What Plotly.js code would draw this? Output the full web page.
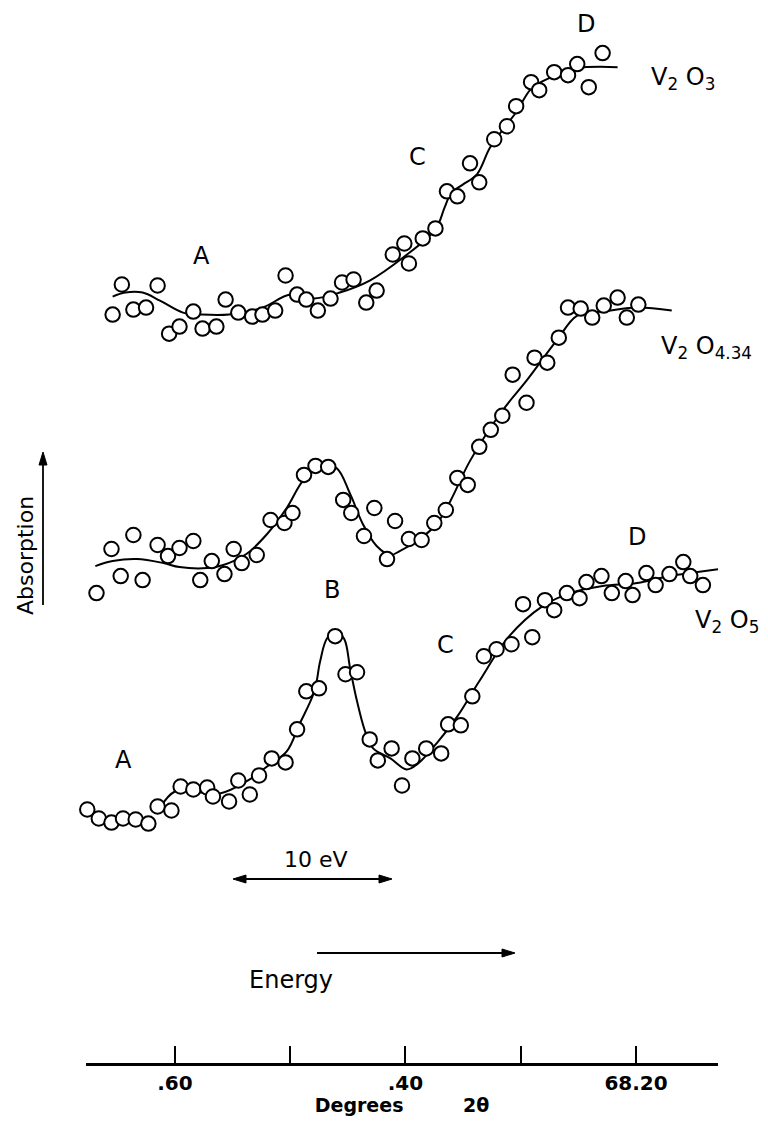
<!DOCTYPE html>
<html>
<head>
<meta charset="utf-8">
<script src="https://cdn.plot.ly/plotly-3.0.1.min.js"></script>
<style>
  html, body { margin: 0; padding: 0; background: #ffffff; }
  #chart { width: 768px; height: 1121px; }
</style>
</head>
<body>
<div id="chart"></div>
<script>
// ---- Data (x = 2θ in degrees, y = absorption, arbitrary units with offsets) ----
const tickValues = [68.60, 68.40, 68.20];
const tickLabels = ['.60', '.40', '68.20'];
const minorTickValues = [68.50, 68.30];

// V2O3 measured points
const xV2O3 = [68.654, 68.646, 68.636, 68.625, 68.615, 68.605, 68.596, 68.584, 68.576, 68.564,
               68.556, 68.545, 68.533, 68.524, 68.513, 68.504, 68.494, 68.486, 68.476, 68.465,
               68.455, 68.445, 68.434, 68.425, 68.411, 68.401, 68.397, 68.385, 68.374, 68.364,
               68.355, 68.344, 68.336, 68.323, 68.312, 68.304, 68.291, 68.284, 68.271, 68.259,
               68.251, 68.241, 68.229];
const yV2O3 = [75.1, 78.1, 75.6, 75.8, 78.0, 73.2, 73.9, 75.4, 73.7, 73.9,
               76.6, 75.3, 74.9, 75.1, 75.5, 79.0, 77.1, 76.6, 75.5, 76.7,
               78.3, 78.6, 76.3, 77.5, 81.1, 82.2, 80.2, 82.7, 83.7, 87.4,
               86.9, 90.2, 88.3, 92.6, 93.9, 95.9, 98.3, 97.5, 99.3, 99.0,
               100.1, 97.8, 101.2];
// V2O3 drawn curve
const xV2O3Fit = [68.654, 68.643, 68.628, 68.613, 68.593, 68.577, 68.553, 68.524, 68.500, 68.480,
                  68.457, 68.431, 68.402, 68.374, 68.366, 68.360, 68.350, 68.338, 68.327, 68.316,
                  68.304, 68.292, 68.284, 68.269, 68.251, 68.216];
const yV2O3Fit = [76.9, 77.3, 77.3, 76.5, 75.3, 75.1, 75.1, 75.8, 77.1, 76.7,
                  77.3, 78.5, 80.8, 83.6, 85.8, 87.3, 88.1, 89.1, 91.7, 93.5,
                  95.3, 97.5, 98.2, 99.0, 99.7, 99.8];

// V2O4.34 measured points
const xV2O434 = [68.668, 68.655, 68.647, 68.636, 68.628, 68.615, 68.606, 68.596, 68.584, 68.578,
                 68.568, 68.557, 68.549, 68.542, 68.529, 68.517, 68.505, 68.498, 68.488, 68.478,
                 68.467, 68.454, 68.447, 68.436, 68.427, 68.416, 68.409, 68.397, 68.386, 68.375,
                 68.365, 68.355, 68.346, 68.336, 68.326, 68.316, 68.307, 68.295, 68.288, 68.277,
                 68.267, 68.259, 68.248, 68.238, 68.228, 68.216, 68.208, 68.198];
const yV2O434 = [47.3, 51.7, 49.0, 53.1, 48.6, 52.1, 51.0, 51.8, 52.5, 48.6,
                 50.5, 49.2, 51.7, 50.3, 51.1, 54.6, 54.3, 55.3, 59.1, 60.0,
                 59.9, 56.6, 55.3, 53.0, 55.8, 50.7, 54.5, 52.7, 52.6, 54.3,
                 55.6, 58.8, 58.1, 61.9, 63.6, 65.0, 69.1, 66.3, 70.8, 70.3,
                 72.8, 75.8, 75.7, 74.8, 76.0, 76.8, 74.8, 76.1];
// V2O4.34 drawn curve
const xV2O434Fit = [68.669, 68.654, 68.633, 68.610, 68.596, 68.572, 68.558, 68.538, 68.520, 68.503,
                    68.489, 68.474, 68.460, 68.448, 68.437, 68.425, 68.413, 68.405, 68.390, 68.373,
                    68.361, 68.344, 68.316, 68.295, 68.269, 68.251, 68.229, 68.199, 68.169];
const yV2O434Fit = [50.0, 50.5, 50.7, 50.3, 49.9, 49.8, 50.1, 51.2, 53.2, 55.8,
                    58.5, 60.0, 59.8, 57.2, 54.2, 52.0, 51.1, 51.5, 52.5, 54.2,
                    56.5, 60.5, 65.5, 68.5, 72.5, 75.0, 75.4, 75.8, 75.5];

// V2O5 measured points
const xV2O5 = [68.676, 68.666, 68.655, 68.645, 68.634, 68.623, 68.615, 68.603, 68.595, 68.584,
               68.572, 68.567, 68.553, 68.545, 68.535, 68.527, 68.516, 68.504, 68.494, 68.486,
               68.475, 68.461, 68.452, 68.442, 68.431, 68.424, 68.412, 68.403, 68.394, 68.382,
               68.369, 68.363, 68.352, 68.342, 68.332, 68.321, 68.308, 68.298, 68.290, 68.279,
               68.271, 68.260, 68.249, 68.243, 68.230, 68.221, 68.209, 68.203, 68.191, 68.183,
               68.171, 68.159, 68.153, 68.142];
const yV2O5 = [25.7, 24.8, 24.4, 24.8, 24.7, 24.3, 26.0, 25.6, 28.0, 27.7,
               27.9, 27.0, 26.5, 28.6, 27.2, 29.1, 30.8, 30.4, 33.7, 37.5,
               37.8, 43.0, 39.2, 39.4, 32.7, 30.6, 31.8, 28.1, 30.8, 31.8,
               31.3, 34.2, 34.1, 37.0, 41.0, 41.7, 42.2, 46.2, 42.9, 46.6,
               45.6, 47.3, 46.8, 48.4, 49.0, 47.3, 48.5, 47.1, 49.3, 48.1,
               49.2, 50.4, 49.0, 48.1];
// V2O5 drawn curve
const xV2O5Fit = [68.613, 68.600, 68.584, 68.561, 68.538, 68.520, 68.503, 68.492, 68.479, 68.474,
                  68.468, 68.460, 68.453, 68.448, 68.442, 68.435, 68.428, 68.413, 68.399, 68.390,
                  68.373, 68.355, 68.336, 68.310, 68.281, 68.257, 68.229, 68.199, 68.171, 68.153,
                  68.128];
const yV2O5Fit = [25.9, 27.5, 27.5, 27.3, 28.5, 30.0, 31.5, 34.2, 37.5, 40.5,
                  42.8, 43.5, 42.7, 39.8, 36.5, 33.5, 31.8, 30.8, 29.7, 30.2,
                  32.3, 35.0, 38.5, 43.0, 46.0, 47.3, 48.0, 48.3, 49.0, 49.3,
                  49.7];

// ---- Layout geometry ----
const W = 768, H = 1121;
const M = { l: 86, r: 50, t: 0, b: 58 };
const PW = W - M.l - M.r, PH = H - M.t - M.b;
// page-pixel -> paper coordinates (for labels/arrows only)
const PX = x => (x - M.l) / PW;
const PY = y => (H - M.b - y) / PH;

const lineStyle = { color: '#000', width: 2, shape: 'spline', smoothing: 1 };
const markerStyle = { symbol: 'circle', size: 14.5, color: '#fff', line: { color: '#000', width: 2 } };

const fits = [[xV2O3Fit, yV2O3Fit, 'V2O3 curve'], [xV2O434Fit, yV2O434Fit, 'V2O4.34 curve'], [xV2O5Fit, yV2O5Fit, 'V2O5 curve']];
const pts = [[xV2O3, yV2O3, 'V2O3'], [xV2O434, yV2O434, 'V2O4.34'], [xV2O5, yV2O5, 'V2O5']];

const traces = [];
fits.forEach(f => traces.push({ x: f[0], y: f[1], name: f[2], type: 'scatter', mode: 'lines', line: lineStyle, hoverinfo: 'skip' }));
pts.forEach(p => traces.push({ x: p[0], y: p[1], name: p[2], type: 'scatter', mode: 'markers', marker: markerStyle, cliponaxis: false }));

const FAM = 'DejaVu Sans, sans-serif';
const labFont = { family: FAM, size: 24, color: '#000' };
function label(text, x, y, extra) {
  return Object.assign({ text: text, xref: 'paper', yref: 'paper', x: PX(x), y: PY(y), showarrow: false,
                         xanchor: 'center', yanchor: 'middle', font: labFont }, extra || {});
}

// arrows drawn as shapes: a line plus filled narrow triangular heads
const shapes = [];
function seg(x0, y0, x1, y1) {
  shapes.push({ type: 'line', xref: 'paper', yref: 'paper', x0: PX(x0), y0: PY(y0), x1: PX(x1), y1: PY(y1),
                line: { color: '#000', width: 1.8 } });
}
function head(tx, ty, dx, dy) { // tip at (tx,ty), pointing along unit (dx,dy)
  const L = 13, Wd = 4;
  const bx = tx - dx * L, by = ty - dy * L;
  const nx = -dy * Wd, ny = dx * Wd;
  const p = `M ${PX(tx)} ${PY(ty)} L ${PX(bx + nx)} ${PY(by + ny)} L ${PX(bx - nx)} ${PY(by - ny)} Z`;
  shapes.push({ type: 'path', xref: 'paper', yref: 'paper', path: p, fillcolor: '#000', line: { color: '#000', width: 1 } });
}
// 10 eV double arrow
seg(236, 879, 389, 879); head(392, 879, 1, 0); head(233, 879, -1, 0);
// Energy arrow
seg(317, 953, 511, 953); head(515, 953, 1, 0);
// Absorption arrow
seg(43, 605, 43, 456); head(43, 452, 0, -1);

const annotations = [
  label('A', 201, 256),
  label('C', 417, 157),
  label('D', 586, 24),
  label('V<sub>2</sub> O<sub>3</sub>', 683, 78),
  label('V<sub>2</sub> O<sub>4.34</sub>', 706, 347),
  label('B', 332, 590),
  label('A', 123, 760),
  label('C', 445, 645),
  label('D', 637, 537),
  label('V<sub>2</sub> O<sub>5</sub>', 727, 621),
  label('10 eV', 316, 859, { font: { family: FAM, size: 22, color: '#000' } }),
  label('Energy', 247, 980, { xanchor: 'left', font: { family: FAM, size: 24, color: '#000' } }),
  label('Absorption', 25, 556, { textangle: -90, font: { family: FAM, size: 22, color: '#000' } })
];

const layout = {
  width: W, height: H,
  margin: M,
  paper_bgcolor: '#fff', plot_bgcolor: '#fff',
  showlegend: false,
  xaxis: {
    range: [68.6771, 68.1289],
    showgrid: false, zeroline: false,
    showline: true, linecolor: '#000', linewidth: 2.5,
    ticks: 'inside', ticklen: 17, tickwidth: 2, tickcolor: '#000',
    tickmode: 'array', tickvals: tickValues, ticktext: tickLabels,
    minor: { tickmode: 'array', tickvals: minorTickValues, ticks: 'inside', ticklen: 17, tickwidth: 2, tickcolor: '#000', showgrid: false },
    tickfont: { family: FAM, size: 20, color: '#000', weight: 'bold' },
    title: { text: 'Degrees' + '\u00A0'.repeat(9) + '2θ', standoff: 2,
             font: { family: FAM, size: 19, color: '#000', weight: 'bold' } },
    automargin: false
  },
  yaxis: { visible: false, range: [0.4, 106.5], fixedrange: true },
  shapes: shapes,
  annotations: annotations
};

Plotly.newPlot('chart', traces, layout, { staticPlot: true, displayModeBar: false });
</script>
</body>
</html>
